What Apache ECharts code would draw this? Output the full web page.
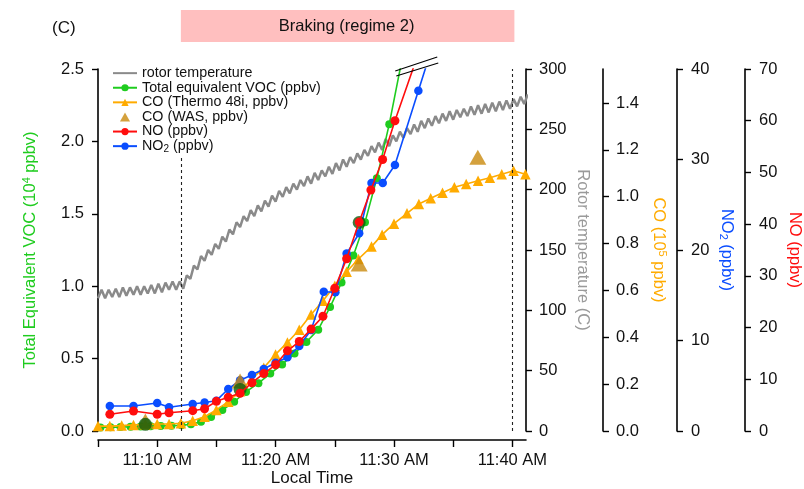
<!DOCTYPE html>
<html>
<head>
<meta charset="utf-8">
<script src="https://cdn.jsdelivr.net/npm/echarts@6.0.0/dist/echarts.min.js"></script>
<style>
  html, body { margin: 0; padding: 0; background: #fff; }
  #chart { width: 804px; height: 489px; }
</style>
</head>
<body>
<div id="chart"></div>
<script>
// Time is expressed in minutes after 11:00 local time.
const tickTimes = [5, 10, 15, 20, 25, 30, 35, 40];
const labelTimes = [10, 20, 30, 40];
const timeLabels = ['11:10 AM', '11:20 AM', '11:30 AM', '11:40 AM'];
const brakingPeriod = [12, 40];
const coTicks = [0, 0.2, 0.4, 0.6, 0.8, 1.0, 1.2, 1.4];

// Rotor temperature (C)
const rotorTemp = [
  [5.0,110],[5.3,117],[5.6,110],[5.9,117],[6.2,111],[6.5,118],[6.8,111],[7.1,119],
  [7.4,112],[7.7,119],[8.0,113],[8.3,120],[8.6,113],[8.9,120],[9.2,114],[9.5,121],
  [9.8,114],[10.1,122],[10.4,115],[10.7,123],[11.0,117],[11.3,124],[11.6,117],[11.9,124],
  [12.2,118],[12.5,129],[12.8,126],[13.1,137],[13.4,134],[13.7,145],[14.0,141],[14.3,150],
  [14.6,146],[14.9,155],[15.2,151],[15.5,161],[15.8,157],[16.1,167],[16.4,163],[16.7,173],
  [17.0,169],[17.3,178],[17.6,174],[17.9,183],[18.2,178],[18.5,187],[18.8,182],[19.1,191],
  [19.4,186],[19.7,195],[20.0,190],[20.3,199],[20.6,194],[20.9,202],[21.2,197],[21.5,205],
  [21.8,200],[22.1,208],[22.4,203],[22.7,211],[23.0,205],[23.3,214],[23.6,208],[23.9,216],
  [24.2,211],[24.5,219],[24.8,213],[25.1,222],[25.4,216],[25.7,225],[26.0,219],[26.3,227],
  [26.6,222],[26.9,230],[27.2,225],[27.5,233],[27.8,228],[28.1,236],[28.4,231],[28.7,239],
  [29.0,233],[29.3,242],[29.6,236],[29.9,245],[30.2,240],[30.5,248],[30.8,243],[31.1,251],
  [31.4,246],[31.7,254],[32.0,248],[32.3,257],[32.6,251],[32.9,259],[33.2,253],[33.5,261],
  [33.8,255],[34.1,263],[34.4,257],[34.7,265],[35.0,258],[35.3,266],[35.6,260],[35.9,267],
  [36.2,261],[36.5,269],[36.8,262],[37.1,270],[37.4,263],[37.7,271],[38.0,264],[38.3,272],
  [38.6,265],[38.9,273],[39.2,266],[39.5,274],[39.8,267],[40.1,275],[40.4,269],[40.7,277],
  [41.0,271],[41.3,279]
];

// Total equivalent VOC (10^4 ppbv)
const vocTime  = [5.2, 6.05, 6.9, 7.75, 8.6, 9.45, 10.3, 11.2, 12.05, 12.85, 13.7, 14.55, 15.5, 16.5,
                  17.5, 18.55, 19.55, 20.55, 21.6, 22.6, 23.6, 24.6, 25.57, 26.57, 27.55, 28.55, 29.6, 31.0];
const vocValue = [0.024, 0.026, 0.027, 0.029, 0.031, 0.033, 0.035, 0.037, 0.040, 0.046, 0.064, 0.097, 0.145, 0.202,
                  0.27, 0.33, 0.397, 0.46, 0.535, 0.615, 0.70, 0.856, 1.025, 1.212, 1.441, 1.745, 2.119, 2.70];

// Whole-air-sample VOC (10^4 ppbv)
const vocWasTime  = [9.0, 17.0, 27.06];
const vocWasValue = [0.046, 0.287, 1.44];

// CO, Thermo 48i (10^5 ppbv)
const coTime  = [5, 6, 7, 8, 9, 10, 11, 12, 13, 14, 15, 16, 17, 18, 19, 20, 21, 22, 23,
                 24, 25, 26, 27, 28.1, 29, 30, 31.1, 32.1, 33.1, 34.1, 35.1, 36.1, 37.1, 38.1, 39.1, 40.1, 41.1];
const coValue = [0.021, 0.021, 0.023, 0.026, 0.028, 0.030, 0.030, 0.033, 0.044, 0.061, 0.090, 0.125, 0.170, 0.222, 0.270,
                 0.327, 0.378, 0.432, 0.497, 0.556, 0.620, 0.680, 0.734, 0.787, 0.838, 0.885, 0.929, 0.969, 0.993,
                 1.017, 1.040, 1.054, 1.068, 1.081, 1.096, 1.111, 1.096];

// CO, whole air samples (10^5 ppbv)
const coWasTime  = [9.0, 17.0, 27.06, 37.08];
const coWasValue = [0.043, 0.213, 0.713, 1.168];

// NO (ppbv)
const noTime  = [6, 8, 10, 11, 13, 14, 15, 16, 17, 18, 19, 20, 21, 22, 23, 24, 25, 26, 27.06, 28.05, 29.04, 30.08, 32.1];
const noValue = [3.23, 3.87, 3.23, 3.54, 3.93, 4.31, 5.74, 6.52, 7.29, 9.34, 11.1, 12.8, 15.5, 17.3, 19.7, 22.2,
                 27.6, 33.3, 40.4, 46.6, 52.5, 60.0, 73.3];

// NO2 (ppbv)
const no2Time  = [6, 8, 10, 11, 13, 14, 15, 16, 17, 18, 19, 20, 21, 22, 23, 24.07, 25.05, 26.0, 27.06, 28.1, 29.05, 30.08, 32.06, 33.1];
const no2Value = [2.76, 2.76, 3.09, 2.62, 2.98, 3.15, 3.35, 4.64, 5.6, 6.19, 6.85, 7.55, 8.14, 9.39, 11.16, 15.39,
                  15.33, 19.6, 21.85, 27.4, 27.4, 29.4, 37.6, 41.9];

const pair = (xs, ys) => xs.map((x, i) => [x, ys[i]]);

const FONT = 'Liberation Sans, Arial, Helvetica, sans-serif';
const C_ROTOR = '#8a8a8a', C_VOC = '#1fcc1f', C_CO = '#ffab00', C_COWAS = '#c98a0c',
      C_NO = '#ff0d0d', C_NO2 = '#0a4dff', C_VOCWAS = '#0c5c0c';

const chart = echarts.init(document.getElementById('chart'), null, { renderer: 'canvas' });

const baseY = (extra) => Object.assign({
  type: 'value',
  position: 'right',
  splitLine: { show: false },
  axisLine: { show: true, onZero: false, lineStyle: { color: '#000', width: 1.6 } },
  axisTick: { show: true, length: 6, lineStyle: { color: '#000', width: 1.4 } },
  axisLabel: { color: '#111', fontSize: 16, fontFamily: FONT, margin: 12 },
  nameLocation: 'middle',
  nameRotate: -90,
  nameMoveOverlap: false,
  nameTextStyle: { fontSize: 16, fontFamily: FONT }
}, extra);

const lineSeries = (name, data, yIdx, color, symbol, size, z) => ({
  name, type: 'line', yAxisIndex: yIdx, data, z,
  symbol, symbolSize: size, showSymbol: true, clip: true,
  lineStyle: { color, width: 1.6 },
  itemStyle: { color, borderWidth: 0 },
  emphasis: { disabled: true },
  animation: false
});

chart.setOption({
  animation: false,
  title: {
    text: '(C)', left: 47, top: 15,
    textStyle: { fontSize: 17, fontWeight: 'normal', fontFamily: FONT, color: '#111' }
  },
  grid: { left: 98, right: 278, top: 69, bottom: 58, containLabel: false, outerBoundsMode: 'none' },
  legend: {
    orient: 'vertical', left: 107, top: 61,
    itemWidth: 24, itemHeight: 9, itemGap: 0.3,
    symbolKeepAspect: true,
    data: [
      { name: 'rotor temperature', itemStyle: { opacity: 0 } },
      'Total equivalent VOC (ppbv)', 'CO (Thermo 48i, ppbv)',
      { name: 'CO (WAS, ppbv)', icon: 'path://M5,0 L10,9 L0,9 Z' },
      'NO (ppbv)', 'NO2 (ppbv)'
    ],
    formatter: (n) => n === 'NO2 (ppbv)' ? '{t|NO}{s|2}{t| (ppbv)}' : n,
    textStyle: {
      fontSize: 14.3, fontFamily: FONT, color: '#111', lineHeight: 14.3,
      rich: { t: { fontSize: 14.3, fontFamily: FONT }, s: { fontSize: 10, fontFamily: FONT, padding: [6, 0, 0, 0] } }
    }
  },
  xAxis: {
    type: 'value', min: 5, max: 41.15, interval: 5, offset: 9,
    splitLine: { show: false },
    axisLine: { onZero: false, lineStyle: { color: '#000', width: 1.6 } },
    axisTick: { length: 7, customValues: tickTimes, lineStyle: { color: '#000', width: 1.4 } },
    axisLabel: {
      customValues: labelTimes, margin: 12, color: '#111', fontSize: 16.5, fontFamily: FONT,
      formatter: (v) => timeLabels[labelTimes.indexOf(Math.round(v))] || ''
    },
    name: 'Local Time', nameLocation: 'middle', nameGap: 30, nameMoveOverlap: false,
    nameTextStyle: { fontSize: 17, fontFamily: FONT, color: '#111' }
  },
  yAxis: [
    baseY({
      position: 'left', min: 0, max: 2.5, interval: 0.5,
      axisLabel: { color: '#111', fontSize: 16.5, fontFamily: FONT, margin: 14, formatter: (v) => v.toFixed(1) },
      name: 'Total Equivalent VOC (10{sup|4} ppbv)', nameRotate: 90, nameGap: 58,
      nameTextStyle: { color: C_VOC, fontSize: 16.5, fontFamily: FONT,
        rich: { sup: { fontSize: 11, color: C_VOC, fontFamily: FONT, padding: [0, 0, 8, 0] } } }
    }),
    baseY({
      min: 0, max: 300, interval: 50, offset: 0,
      axisLabel: { color: '#111', fontSize: 16.5, fontFamily: FONT, margin: 13 },
      name: 'Rotor temperature (C)', nameGap: 48,
      nameTextStyle: { color: '#9a9a9a', fontSize: 16.5, fontFamily: FONT }
    }),
    baseY({
      min: 0, max: 1.545, offset: 77,
      axisTick: { show: true, length: 6, customValues: coTicks, lineStyle: { color: '#000', width: 1.4 } },
      axisLabel: { customValues: coTicks, color: '#111', fontSize: 16.5, fontFamily: FONT, margin: 13,
        formatter: (v) => v.toFixed(1) },
      name: 'CO (10{sup|5} ppbv)', nameGap: 46,
      nameTextStyle: { color: C_CO, fontSize: 16.5, fontFamily: FONT,
        rich: { sup: { fontSize: 11, color: C_CO, fontFamily: FONT, padding: [0, 0, 8, 0] } } }
    }),
    baseY({
      min: 0, max: 40, interval: 10, offset: 151,
      axisLabel: { color: '#111', fontSize: 16.5, fontFamily: FONT, margin: 14 },
      name: 'NO{sub|2} (ppbv)', nameGap: 41,
      nameTextStyle: { color: C_NO2, fontSize: 16.5, fontFamily: FONT,
        rich: { sub: { fontSize: 11, color: C_NO2, fontFamily: FONT, padding: [7, 0, 0, 0] } } }
    }),
    baseY({
      min: 0, max: 70, interval: 10, offset: 219,
      axisLabel: { color: '#111', fontSize: 16.5, fontFamily: FONT, margin: 14 },
      name: 'NO (ppbv)', nameGap: 41,
      nameTextStyle: { color: C_NO, fontSize: 16.5, fontFamily: FONT }
    })
  ],
  series: [
    Object.assign(lineSeries('rotor temperature', rotorTemp, 1, C_ROTOR, 'none', 0, 1),
      { lineStyle: { color: C_ROTOR, width: 2.5 }, showSymbol: false }),
    lineSeries('Total equivalent VOC (ppbv)', pair(vocTime, vocValue), 0, C_VOC, 'circle', 8, 2),
    lineSeries('CO (Thermo 48i, ppbv)', pair(coTime, coValue), 2, C_CO, 'triangle', 10.5, 3),
    lineSeries('NO2 (ppbv)', pair(no2Time, no2Value), 3, C_NO2, 'circle', 8.5, 4),
    {
      name: 'CO (WAS, ppbv)', type: 'scatter', yAxisIndex: 2, z: 5,
      data: pair(coWasTime, coWasValue), symbol: 'triangle', symbolSize: [17, 15],
      itemStyle: { color: C_COWAS }, emphasis: { disabled: true }
    },
    {
      name: 'VOC (WAS)', type: 'scatter', yAxisIndex: 0, z: 6,
      data: pair(vocWasTime, vocWasValue), symbol: 'circle', symbolSize: 13,
      itemStyle: { color: C_VOCWAS }, emphasis: { disabled: true }
    },
    lineSeries('NO (ppbv)', pair(noTime, noValue), 4, C_NO, 'circle', 9, 7),
    {
      name: 'regime bounds', type: 'line', yAxisIndex: 0, data: [], z: 0,
      markLine: {
        silent: true, symbol: 'none', label: { show: false },
        lineStyle: { color: '#222', type: [3, 3], width: 1.1 },
        data: [
          [{ coord: [brakingPeriod[0], 0] }, { coord: [brakingPeriod[0], 1.887] }],
          [{ coord: [brakingPeriod[1], 0] }, { coord: [brakingPeriod[1], 2.5] }]
        ]
      }
    }
  ]
});

// Braking banner above the plot and axis-break marks where the traces leave the scale.
const px = (t, v) => chart.convertToPixel({ xAxisIndex: 0, yAxisIndex: 0 }, [t, v]);
const b0 = px(brakingPeriod[0], 2.5), b1 = px(brakingPeriod[1], 2.5);
const topY = b0[1];
const brk = px(30.7, 2.5);
chart.setOption({
  graphic: [
    {
      type: 'rect', shape: { x: b0[0], y: 10, width: b1[0] - b0[0] + 2, height: 32 },
      style: { fill: '#ffbfbf' }, silent: true
    },
    {
      type: 'text', x: (b0[0] + b1[0]) / 2, y: 26,
      style: { text: 'Braking (regime 2)', fill: '#111', font: '16.5px ' + FONT, align: 'center', verticalAlign: 'middle' },
      silent: true
    },
    {
      type: 'line', shape: { x1: brk[0] - 7, y1: topY + 2, x2: brk[0] + 35, y2: topY - 12 },
      style: { stroke: '#000', lineWidth: 1.2 }, silent: true, z: 100
    },
    {
      type: 'line', shape: { x1: brk[0] - 6, y1: topY + 7, x2: brk[0] + 36, y2: topY - 6 },
      style: { stroke: '#000', lineWidth: 1.2 }, silent: true, z: 100
    }
  ]
});
</script>
</body>
</html>
